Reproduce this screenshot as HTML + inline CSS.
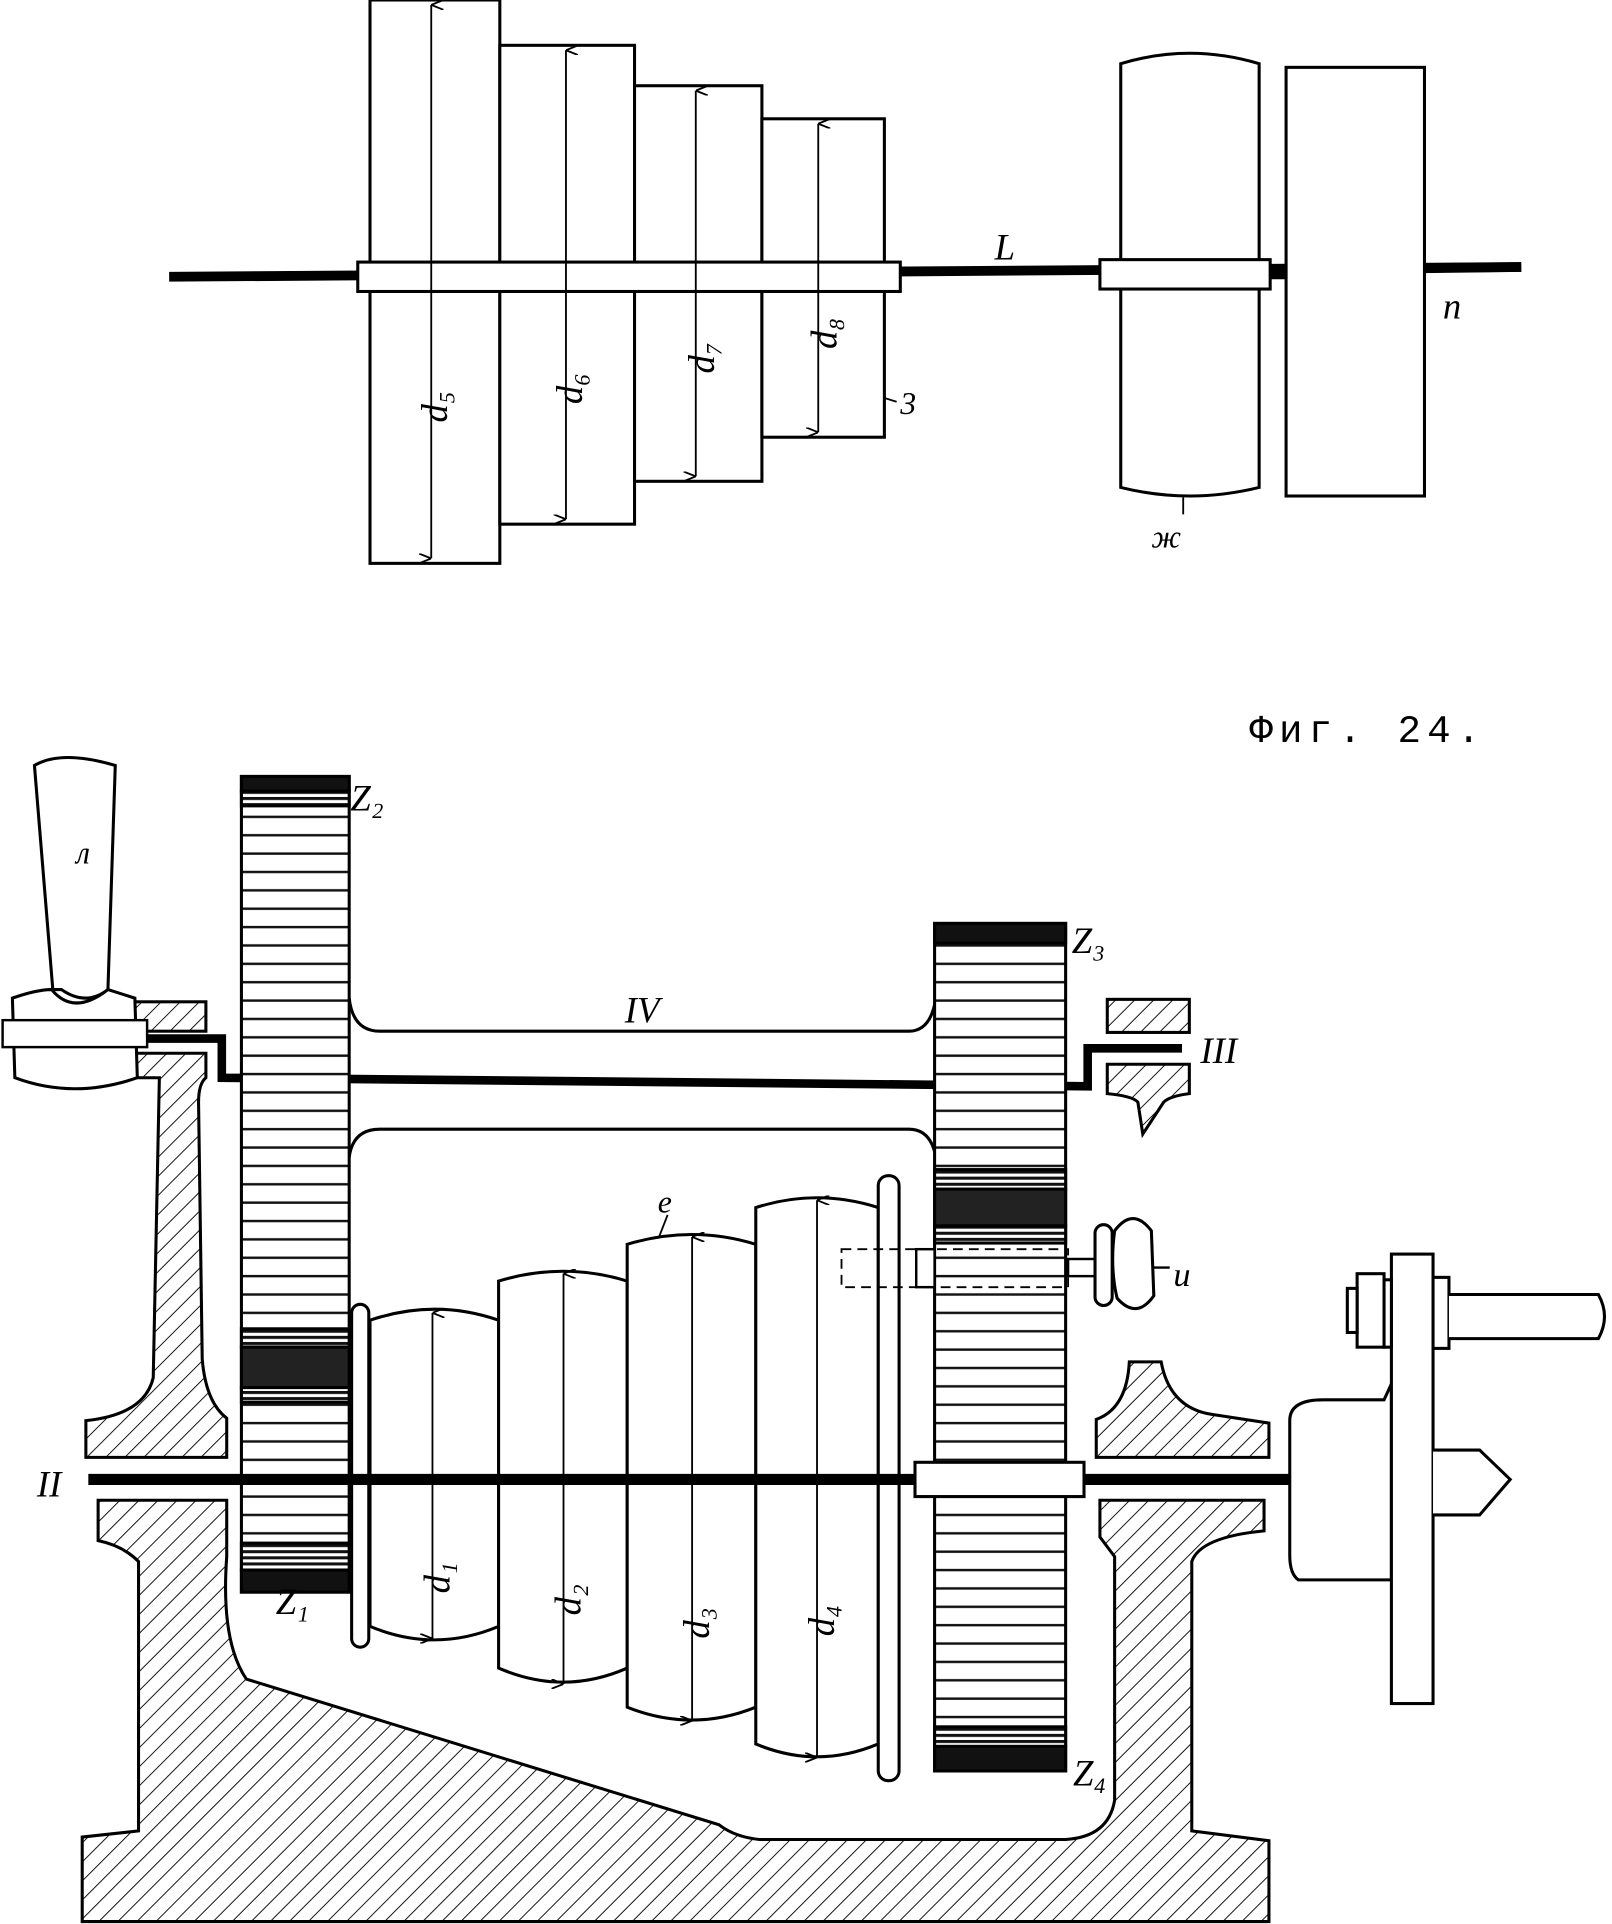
<!DOCTYPE html>
<html><head><meta charset="utf-8"><style>html,body{margin:0;padding:0;background:#fff}svg{display:block}</style></head>
<body>
<svg width="1612" height="1924" viewBox="0 0 1316 1571" xmlns="http://www.w3.org/2000/svg">
<defs>
<pattern id="h" width="11" height="11" patternUnits="userSpaceOnUse" patternTransform="rotate(45)">
<rect width="11" height="11" fill="#fff"/><line x1="0" y1="0" x2="0" y2="11" stroke="#111" stroke-width="1.6"/></pattern>
<pattern id="g" width="10" height="15" patternUnits="userSpaceOnUse"><rect width="10" height="15" fill="#fff"/><line x1="0" y1="7" x2="10" y2="7" stroke="#111" stroke-width="2"/></pattern>
<pattern id="gd" width="10" height="5" patternUnits="userSpaceOnUse"><rect width="10" height="5" fill="#fff"/><line x1="0" y1="2" x2="10" y2="2" stroke="#111" stroke-width="2.5"/></pattern>
<marker id="a" markerWidth="8" markerHeight="10" refX="4" refY="0" orient="auto-start-reverse" markerUnits="userSpaceOnUse"><path d="M0,10 L4,0 L8,10" fill="none" stroke="#000" stroke-width="1.5"/></marker>
</defs>
<g fill="none" stroke="#000" stroke-width="2.5" font-family="Liberation Serif, serif" font-style="italic">
<!-- TOP -->
<line x1="138" y1="226" x2="1242" y2="218" stroke-width="8"/>
<rect x="302" y="0" width="106" height="460" fill="#fff"/>
<rect x="408" y="37" width="110" height="391" fill="#fff"/>
<rect x="518" y="70" width="104" height="323" fill="#fff"/>
<rect x="622" y="97" width="100" height="260" fill="#fff"/>
<rect x="292" y="214" width="443" height="24" fill="#fff"/>
<path d="M915,52 Q971,35 1028,52 L1028,398 Q971,412 915,398 Z" fill="#fff"/>
<rect x="1050" y="55" width="113" height="350" fill="#fff"/>
<line x1="1028" y1="224" x2="1050" y2="224" stroke-width="8"/>
<rect x="898" y="212" width="139" height="24" fill="#fff"/>
<line x1="1163" y1="219" x2="1242" y2="218" stroke-width="8"/>
<g stroke-width="1.5" marker-start="url(#a)" marker-end="url(#a)">
<line x1="352" y1="4" x2="352" y2="456"/>
<line x1="462" y1="41" x2="462" y2="424"/>
<line x1="568" y1="74" x2="568" y2="389"/>
<line x1="668" y1="101" x2="668" y2="353"/>
</g>
<line x1="722" y1="325" x2="732" y2="328" stroke-width="1.5"/>
<line x1="966" y1="406" x2="966" y2="420" stroke-width="1.5"/>
<g fill="#000" stroke="none" font-size="30">
<text x="335" y="345" transform="rotate(-90 350 330)">d₅</text>
<text x="445" y="330" transform="rotate(-90 460 315)">d₆</text>
<text x="553" y="305" transform="rotate(-90 568 290)">d₇</text>
<text x="653" y="285" transform="rotate(-90 668 270)">d₈</text>
<text x="735" y="338" font-size="26">3</text>
<text x="812" y="212" font-size="30">L</text>
<text x="1178" y="260" font-size="30">n</text>
<text x="940" y="447" font-size="26">ж</text>
<text x="1020" y="606" font-size="32" font-style="normal" letter-spacing="5" font-family="Liberation Mono, monospace">Фиг. 24.</text>
</g>
<!-- BOTTOM casing -->
<path d="M107,860 L168,860 L168,880 Q162,885 162,900 L165,1110 Q168,1145 185,1158 L185,1190 L70,1190 L70,1160 Q118,1155 125,1125 L130,880 L107,880 Z" fill="url(#h)"/>
<path d="M80,1225 L185,1225 L185,1271 Q180,1340 201,1371 L587,1490 Q600,1500 620,1502 L870,1502 Q905,1500 910,1470 L910,1271 L898,1255 L898,1225 L1032,1225 L1032,1250 Q980,1255 973,1275 L973,1495 L1036,1503 L1036,1569 L67,1569 L67,1500 L113,1495 L113,1275 Q100,1262 80,1258 Z" fill="url(#h)"/>
<path d="M895,1190 L895,1159 Q920,1150 922,1112 L948,1112 Q955,1150 990,1155 L1036,1162 L1036,1190 Z" fill="url(#h)"/>
<rect x="107" y="818" width="61" height="24" fill="url(#h)"/>
<rect x="904" y="816" width="67" height="27" fill="url(#h)"/>
<path d="M904,869 L971,869 L971,893 Q955,895 950,900 L933,926 L929,900 Q925,895 904,893 Z" fill="url(#h)"/>
<!-- frame IV -->
<path d="M285,815 Q288,842 310,842 L742,842 Q760,842 764,815"/>
<path d="M285,945 Q288,922 310,922 L742,922 Q760,922 764,945"/>
<!-- shaft III -->
<path d="M95,848 L181,848 L181,880 L888,887 L888,856 L965,856" stroke-width="7"/>
<!-- handle -->
<path d="M28,625 Q50,612 94,625 L88,808 Q70,822 50,808 L43,808 Z" fill="#fff"/>
<path d="M10,815 Q30,808 42,808 Q60,830 88,808 L110,815 L112,880 Q60,898 12,880 Z" fill="#fff"/>
<rect x="2" y="833" width="118" height="22" fill="#fff" stroke-width="2"/>
<!-- gears -->
<rect x="197" y="634" width="88" height="666" fill="url(#g)"/>
<rect x="197" y="634" width="88" height="12" fill="#111"/>
<rect x="197" y="646" width="88" height="12" fill="url(#gd)"/>
<rect x="197" y="1085" width="88" height="15" fill="url(#gd)"/>
<rect x="197" y="1100" width="88" height="33" fill="#222"/>
<rect x="197" y="1133" width="88" height="12" fill="url(#gd)"/>
<rect x="197" y="1260" width="88" height="22" fill="url(#gd)"/>
<rect x="197" y="1282" width="88" height="18" fill="#111"/>
<rect x="763" y="754" width="107" height="692" fill="url(#g)"/>
<rect x="763" y="754" width="107" height="16" fill="#111"/>
<rect x="763" y="955" width="107" height="16" fill="url(#gd)"/>
<rect x="763" y="971" width="107" height="30" fill="#222"/>
<rect x="763" y="1001" width="107" height="14" fill="url(#gd)"/>
<rect x="763" y="1410" width="107" height="16" fill="url(#gd)"/>
<rect x="763" y="1426" width="107" height="20" fill="#111"/>
<!-- cone -->
<path d="M302,1078 Q355,1060 407,1078 L407,1328 Q355,1350 302,1328 Z" fill="#fff"/>
<path d="M407,1046 Q460,1030 512,1046 L512,1362 Q460,1385 407,1362 Z" fill="#fff"/>
<path d="M512,1016 Q565,1000 617,1016 L617,1394 Q565,1415 512,1394 Z" fill="#fff"/>
<path d="M617,986 Q667,970 717,986 L717,1424 Q667,1445 617,1424 Z" fill="#fff"/>
<rect x="287" y="1065" width="14" height="280" rx="7" fill="#fff"/>
<rect x="717" y="960" width="17" height="494" rx="8" fill="#fff"/>
<g stroke-width="1.5" marker-start="url(#a)" marker-end="url(#a)">
<line x1="353" y1="1072" x2="353" y2="1338"/>
<line x1="460" y1="1040" x2="460" y2="1375"/>
<line x1="565" y1="1010" x2="565" y2="1405"/>
<line x1="667" y1="980" x2="667" y2="1435"/>
</g>
<line x1="545" y1="992" x2="538" y2="1010" stroke-width="1.5"/>
<!-- shaft II -->
<line x1="72" y1="1208" x2="1055" y2="1208" stroke-width="9"/>
<rect x="747" y="1194" width="138" height="28" fill="#fff"/>
<!-- dashed rod and knob -->
<g stroke-dasharray="8,5" stroke-width="1.5"><rect x="687" y="1020" width="185" height="31"/></g>
<rect x="748" y="1020" width="15" height="31" fill="#fff" stroke-width="2"/>
<line x1="872" y1="1035" x2="955" y2="1035" stroke-width="2"/>
<rect x="872" y="1028" width="22" height="14" fill="#fff" stroke-width="2"/>
<rect x="894" y="1000" width="14" height="66" rx="7" fill="#fff"/>
<path d="M910,1005 Q925,985 940,1005 L942,1058 Q928,1078 912,1060 Q906,1035 910,1005 Z" fill="#fff"/>
<!-- tailstock -->
<path d="M1053,1160 Q1053,1143 1080,1143 L1130,1143 L1136,1130 L1136,1290 L1060,1290 Q1053,1285 1053,1270 Z" fill="#fff"/>
<rect x="1136" y="1024" width="34" height="367" fill="#fff"/>
<rect x="1170" y="1043" width="13" height="58" fill="#fff"/>
<path d="M1183,1057 L1305,1057 Q1315,1075 1305,1093 L1183,1093" fill="#fff"/>
<rect x="1108" y="1040" width="22" height="60" fill="#fff"/>
<rect x="1100" y="1052" width="8" height="36" fill="#fff"/>
<rect x="1130" y="1045" width="6" height="55" fill="#fff"/>
<path d="M1170,1184 L1208,1184 L1233,1208 L1208,1237 L1170,1237" fill="#fff"/>
<g fill="#000" stroke="none" font-size="30">
<text x="286" y="662">Z₂</text>
<text x="875" y="778">Z₃</text>
<text x="876" y="1458">Z₄</text>
<text x="225" y="1318">Z₁</text>
<text x="510" y="835">IV</text>
<text x="980" y="868">III</text>
<text x="30" y="1222">II</text>
<text x="537" y="990" font-size="26">e</text>
<text x="958" y="1050" font-size="28">u</text>
<text x="62" y="705" font-size="26">л</text>
<text x="336" y="1300" transform="rotate(-90 352 1285)">d₁</text>
<text x="443" y="1318" transform="rotate(-90 459 1303)">d₂</text>
<text x="548" y="1337" transform="rotate(-90 564 1322)">d₃</text>
<text x="650" y="1335" transform="rotate(-90 666 1320)">d₄</text>
</g>
</g>
</svg>
</body></html>
